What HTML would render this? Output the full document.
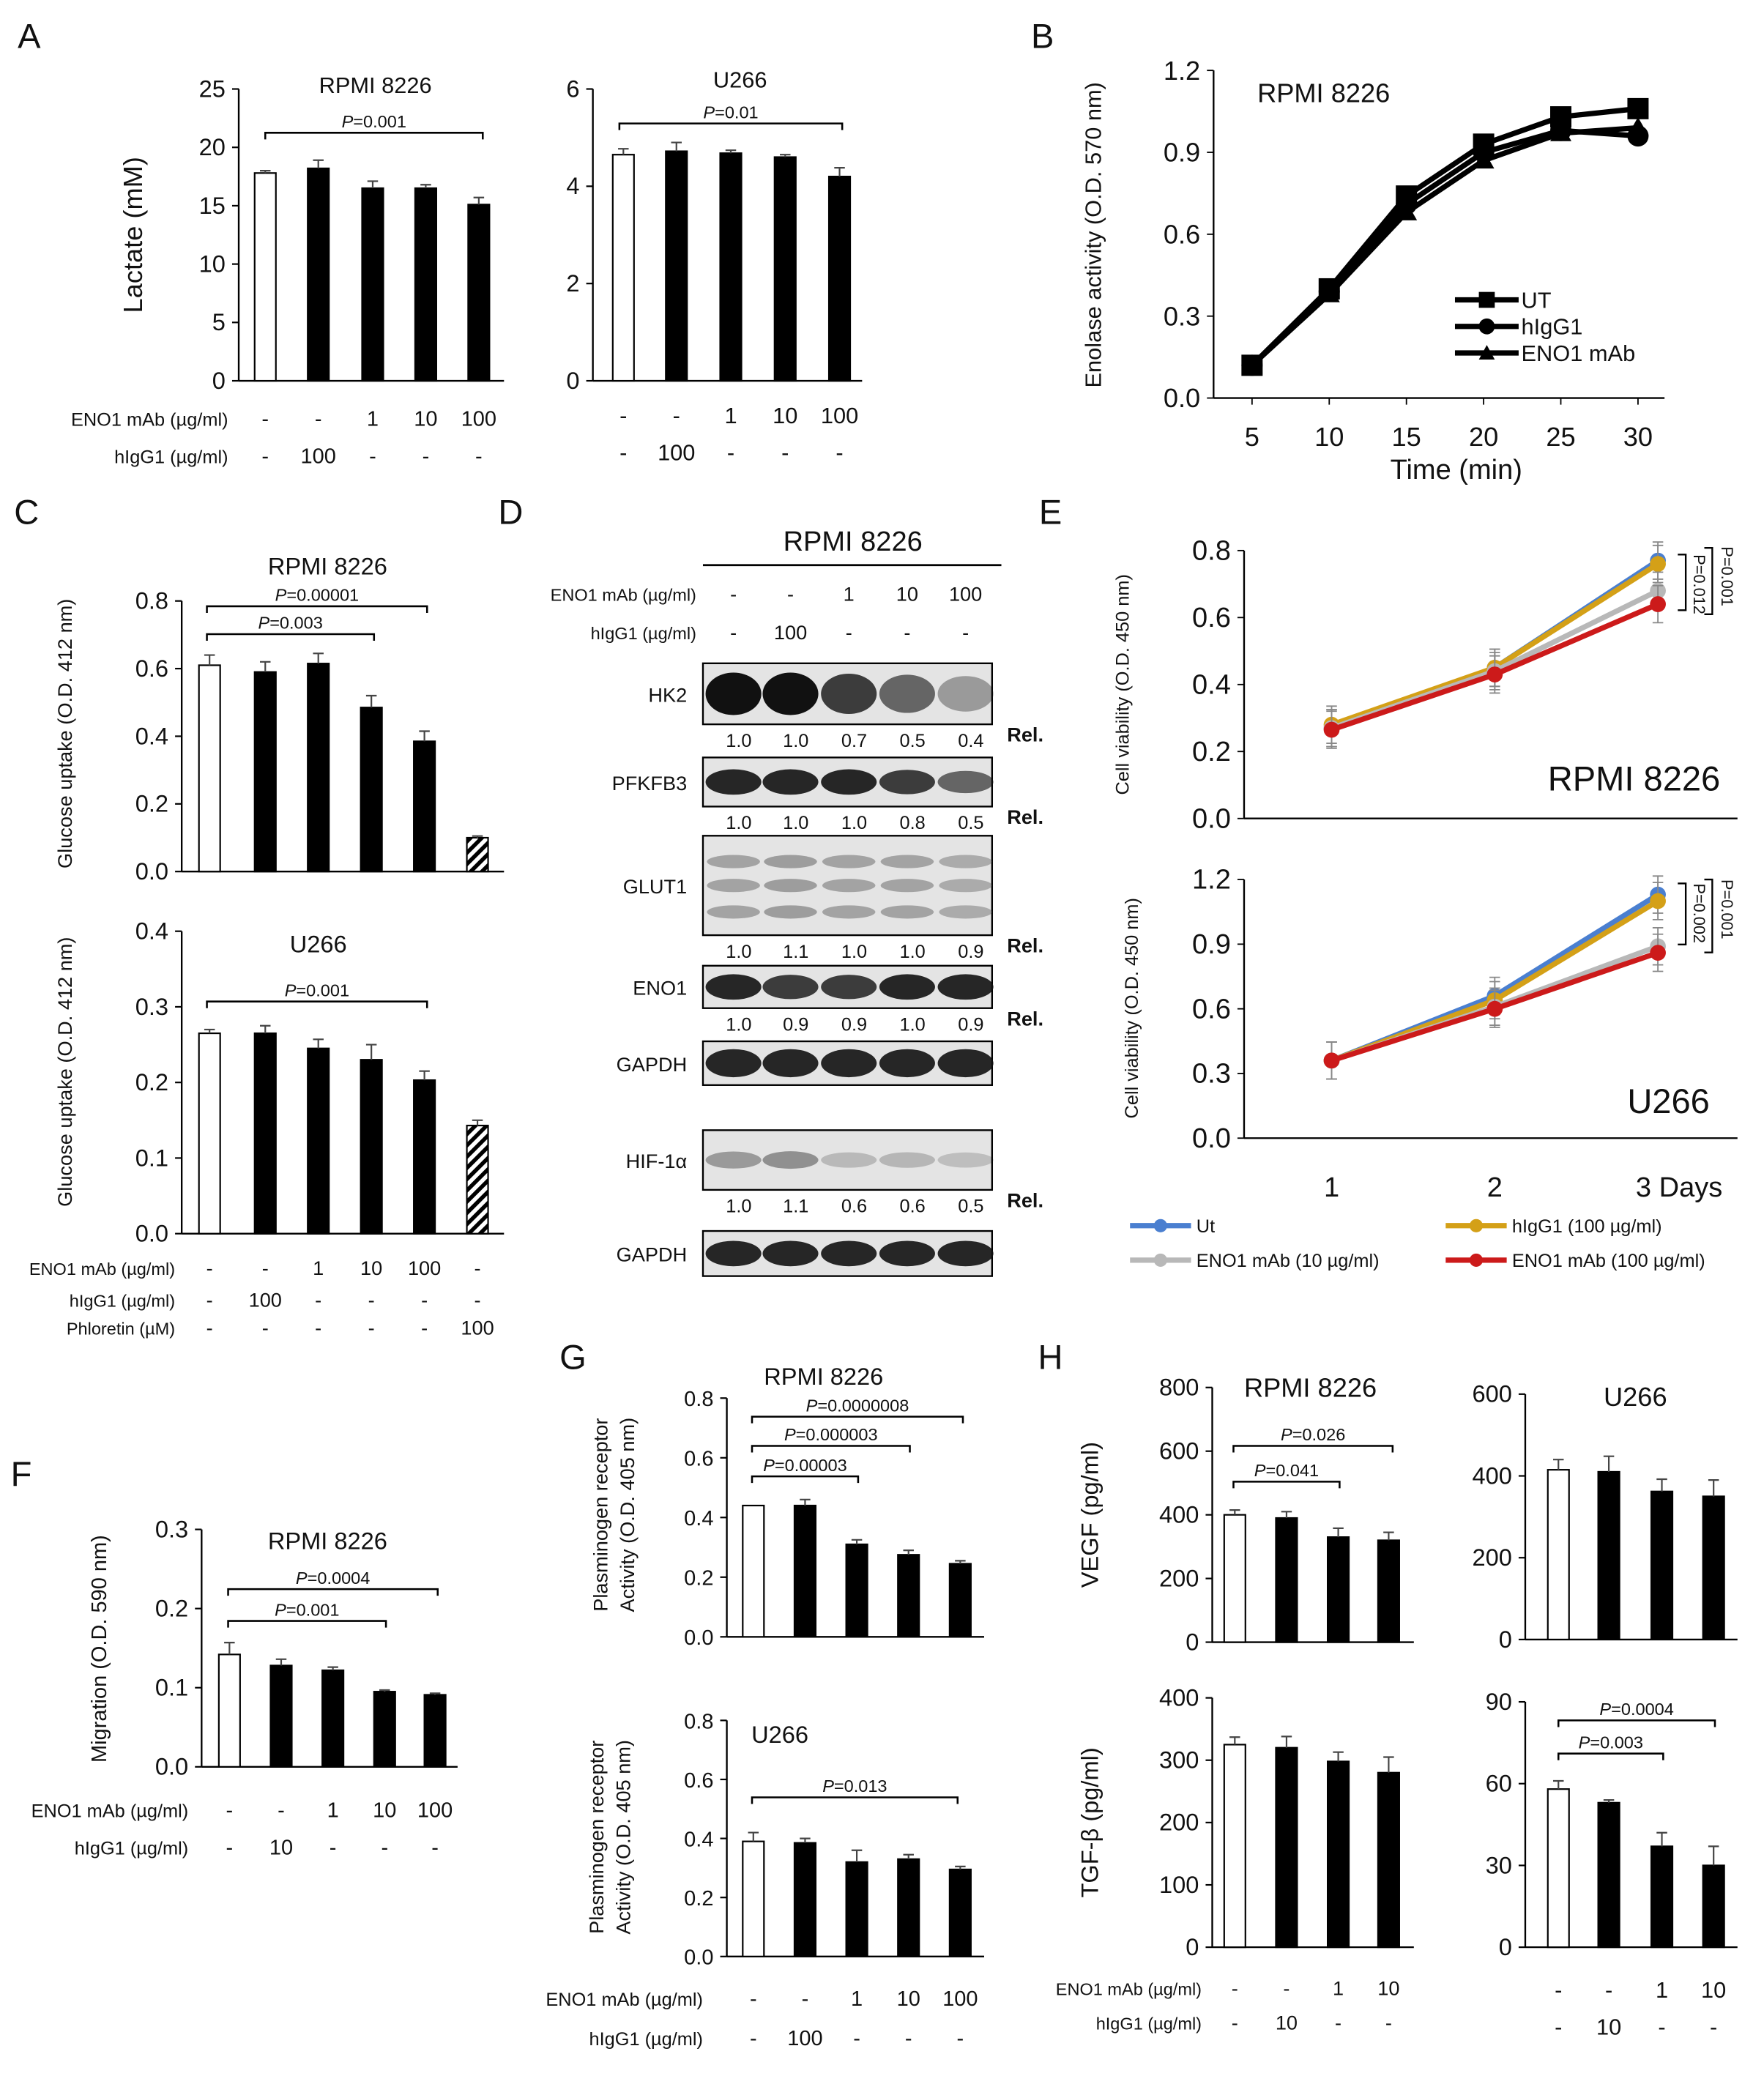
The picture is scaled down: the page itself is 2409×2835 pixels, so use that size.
<!DOCTYPE html>
<html><head><meta charset="utf-8"><style>
html,body{margin:0;padding:0;background:#fff}
svg{display:block}
text{font-family:"Liberation Sans",sans-serif;fill:#111}
</style></head><body>
<svg id="fig" width="2409" height="2835" viewBox="0 0 1330 1565" xmlns="http://www.w3.org/2000/svg">
<defs><pattern id="hatch" width="6" height="6" patternUnits="userSpaceOnUse" patternTransform="rotate(45)"><rect width="6" height="6" fill="#fff"/><rect width="3" height="6" fill="#000"/></pattern></defs>
<g id="root"></g>
</svg>
<script>
// ---- data ----
const aRpmiVals=[17.8,18.2,16.5,16.5,15.1];const aRpmiErr=[0.2,0.7,0.6,0.3,0.6];const aRpmiTicks=[0,5,10,15,20,25];
const aU266Vals=[4.65,4.72,4.68,4.6,4.2];const aU266Err=[0.12,0.18,0.06,0.05,0.18];const aU266Ticks=[0,2,4,6];
const bTimes=[5,10,15,20,25,30];const bUT=[0.12,0.40,0.74,0.93,1.03,1.06];const bIgG=[0.12,0.39,0.71,0.90,0.98,0.96];const bENO=[0.12,0.38,0.68,0.87,0.97,0.99];const bTicks=[0.0,0.3,0.6,0.9,1.2];
const cRpmiVals=[0.61,0.59,0.615,0.485,0.385,0.10];const cRpmiErr=[0.03,0.03,0.03,0.035,0.03,0.005];const cRpmiTicks=[0,0.2,0.4,0.6,0.8];
const cU266Vals=[0.265,0.265,0.245,0.23,0.203,0.143];const cU266Err=[0.005,0.01,0.012,0.02,0.012,0.007];const cU266Ticks=[0,0.1,0.2,0.3,0.4];
const eDays=[1,2,3];const eR_Ut=[0.27,0.45,0.77];const eR_IgG=[0.28,0.45,0.76];const eR_E10=[0.27,0.44,0.68];const eR_E100=[0.265,0.43,0.64];const eRTicks=[0,0.2,0.4,0.6,0.8];
const eU_Ut=[0.36,0.66,1.13];const eU_IgG=[0.36,0.64,1.10];const eU_E10=[0.36,0.61,0.89];const eU_E100=[0.36,0.60,0.86];const eUTicks=[0,0.3,0.6,0.9,1.2];
const fVals=[0.142,0.128,0.122,0.095,0.091];const fErr=[0.015,0.008,0.004,0.002,0.002];const fTicks=[0,0.1,0.2,0.3];
const gRVals=[0.44,0.44,0.31,0.275,0.245];const gRErr=[0,0.02,0.015,0.015,0.01];const gRTicks=[0,0.2,0.4,0.6,0.8];
const gUVals=[0.39,0.385,0.32,0.33,0.295];const gUErr=[0.03,0.015,0.04,0.015,0.01];const gUTicks=[0,0.2,0.4,0.6,0.8];
const hVRVals=[400,390,330,320];const hVRErr=[15,20,28,25];const hVRTicks=[0,200,400,600,800];
const hVUVals=[415,410,362,350];const hVUErr=[25,38,30,40];const hVUTicks=[0,200,400,600];
const hTRVals=[325,320,298,280];const hTRErr=[12,18,15,25];const hTRTicks=[0,100,200,300,400];
const hTUVals=[58,53,37,30];const hTUErr=[3,1,5,7];const hTUTicks=[0,30,60,90];
const wbRel={HK2:[1.0,1.0,0.7,0.5,0.4],PFKFB3:[1.0,1.0,1.0,0.8,0.5],GLUT1:[1.0,1.1,1.0,1.0,0.9],ENO1:[1.0,0.9,0.9,1.0,0.9],HIF:[1.0,1.1,0.6,0.6,0.5]};

const NS="http://www.w3.org/2000/svg";const root=document.getElementById('root');
function el(tag,attrs,parent,name,txt){const e=document.createElementNS(NS,tag);for(const k in attrs)e.setAttribute(k,attrs[k]);


if(txt!==undefined)e.textContent=txt;(parent||root).appendChild(e);return e;}
function T(x,y,s,size,name,anchor,extra){const a=Object.assign({x:x,y:y,'font-size':size||16,'text-anchor':anchor||'middle'},extra||{});return el('text',a,root,name,s);}
function fmt(v,d){return d===undefined?String(v):v.toFixed(d);}

function barChart(c,vals,errs,ticks,id){
 const ys=v=>c.y0-(v-ticks[0])/(ticks[ticks.length-1]-ticks[0])*(c.y0-c.y1);
 el('line',{x1:c.ax,y1:c.y1,x2:c.ax,y2:c.y0,stroke:'#000','stroke-width':1.3},root,id+'-y-axis');
 el('line',{x1:c.ax,y1:c.y0,x2:c.xend,y2:c.y0,stroke:'#000','stroke-width':1.3},root,id+'-x-axis');
 ticks.forEach(t=>{const y=ys(t);el('line',{x1:c.ax-5,y1:y,x2:c.ax,y2:y,stroke:'#000','stroke-width':1.2},root,id+'-tick');
  T(c.ax-10,y+6,fmt(t,c.dec),c.fs||18,id+'-tick-label','end');});
 vals.forEach((v,i)=>{const x=c.xs[i],w=c.bw||16;const y=ys(v);
  let fill='#000';if(i===0)fill='#fff';if(c.hatchLast&&i===vals.length-1)fill='url(#hatch)';
  el('rect',{x:x-w/2,y:y,width:w,height:c.y0-y,fill:fill,stroke:'#000','stroke-width':1.2},root,id+'-bar-'+(i+1));
  const e=errs[i];if(e>0){const ye=ys(v+e);el('path',{d:`M${x},${y}V${ye}M${x-4},${ye}H${x+4}`,stroke:'#444','stroke-width':1.2,fill:'none'},root,id+'-error-bar');}});
 return ys;}
function brack(x1,x2,y,label,id){el('path',{d:`M${x1},${y+5}V${y}H${x2}V${y+5}`,stroke:'#000','stroke-width':1.4,fill:'none'},root,id);
 el('text',{x:(x1+x2)/2,y:y-4,'font-size':13,'text-anchor':'middle'},root,id+'-label').innerHTML='<tspan font-style="italic">P</tspan>='+label;}
function rowLabels(x,y,label,items,xs,size,id){T(x,y,label,size||14,id+'-label','end');items.forEach((s,i)=>T(xs[i],y,s,size?size+2:16,id+'-value'));}
function ylab(x,y,s,size,id){el('text',{x:x,y:y,'font-size':size,'text-anchor':'middle',transform:`rotate(-90 ${x} ${y})`},root,id,s);}

// panel letters
[['A',22,36],['B',786,36],['C',20,395],['D',385,395],['E',792,395],['F',16,1120],['G',432,1032],['H',792,1032]].forEach(p=>T(p[1],p[2],p[0],26,'panel-letter-'+p[0],'middle'));

// ---- A ----
let xsA=[200,240,281,321,361];barChart({ax:180,y0:287,y1:67,xend:380,xs:xsA},aRpmiVals,aRpmiErr,aRpmiTicks,'a-rpmi');
T(283,70,'RPMI 8226',17,'a-rpmi-title');brack(200,364,100,'0.001','a-rpmi-pvalue');
ylab(107,177,'Lactate (mM)',20,'a-y-axis-title');
let xsA2=[470,510,551,592,633];barChart({ax:447,y0:287,y1:67,xend:650,xs:xsA2},aU266Vals,aU266Err,aU266Ticks,'a-u266');
T(558,66,'U266',17,'a-u266-title');brack(467,635,93,'0.01','a-u266-pvalue');
rowLabels(172,321,'ENO1 mAb (µg/ml)',['-','-','1','10','100'],xsA,14,'a-eno1-row');
rowLabels(172,349,'hIgG1 (µg/ml)',['-','100','-','-','-'],xsA,14,'a-higg1-row');
['-','-','1','10','100'].forEach((s,i)=>T(xsA2[i],319,s,17,'a-u266-eno1-value'));
['-','100','-','-','-'].forEach((s,i)=>T(xsA2[i],347,s,17,'a-u266-higg1-value'));

// ---- B ----
(function(){const ax=915,y0=300,y1=53;const xs=t=>944+(t-5)/25*(1235-944);const ys=v=>y0-v/1.2*(y0-y1);
 el('line',{x1:ax,y1:y1,x2:ax,y2:y0,stroke:'#000','stroke-width':1.3},root,'b-y-axis');
 el('line',{x1:ax,y1:y0,x2:1255,y2:y0,stroke:'#000','stroke-width':1.3},root,'b-x-axis');
 bTicks.forEach(t=>{el('line',{x1:ax-5,y1:ys(t),x2:ax,y2:ys(t),stroke:'#000'},root,'b-y-tick');T(ax-10,ys(t)+7,t.toFixed(1),20,'b-y-tick-label','end');});
 bTimes.forEach(t=>{el('line',{x1:xs(t),y1:y0,x2:xs(t),y2:y0+5,stroke:'#000'},root,'b-x-tick');T(xs(t),y0+36,String(t),20,'b-x-tick-label');});
 T(1098,361,'Time (min)',21,'b-x-axis-title');ylab(830,177,'Enolase activity (O.D. 570 nm)',17,'b-y-axis-title');
 T(948,77,'RPMI 8226',20,'b-title','start');
 const ser=[[bUT,'sq','ut'],[bIgG,'ci','higg1'],[bENO,'tr','eno1']];
 ser.forEach(s=>{el('polyline',{points:s[0].map((v,i)=>xs(bTimes[i])+','+ys(v)).join(' '),fill:'none',stroke:'#000','stroke-width':4},root,'b-line-'+s[2]);
  s[0].forEach((v,i)=>{const x=xs(bTimes[i]),y=ys(v);
   if(s[1]==='sq')el('rect',{x:x-8,y:y-8,width:16,height:16,fill:'#000'},root,'b-point-'+s[2]);
   else if(s[1]==='ci')el('circle',{cx:x,cy:y,r:8,fill:'#000'},root,'b-point-'+s[2]);
   else el('path',{d:`M${x},${y-8}L${x+8},${y+6}L${x-8},${y+6}Z`,fill:'#000'},root,'b-point-'+s[2]);});});
 [['UT',226,'sq'],['hIgG1',246,'ci'],['ENO1 mAb',266,'tr']].forEach(l=>{el('line',{x1:1097,y1:l[1],x2:1145,y2:l[1],stroke:'#000','stroke-width':4},root,'b-legend-line');
  if(l[2]==='sq')el('rect',{x:1115,y:l[1]-6,width:12,height:12},root,'b-legend-marker');else if(l[2]==='ci')el('circle',{cx:1121,cy:l[1],r:6},root,'b-legend-marker');else el('path',{d:`M1121,${l[1]-6}L1127,${l[1]+5}L1115,${l[1]+5}Z`},root,'b-legend-marker');
  T(1147,l[1]+6,l[0],17,'b-legend-entry','start');});})();

// ---- C ----
let xsC=[158,200,240,280,320,360];
barChart({ax:137,y0:657,y1:453,xend:380,xs:xsC,dec:1,hatchLast:true},cRpmiVals,cRpmiErr,cRpmiTicks,'c-rpmi');
T(247,433,'RPMI 8226',18,'c-rpmi-title');brack(156,322,457,'0.00001','c-pvalue-1');brack(156,282,478,'0.003','c-pvalue-2');
ylab(54,553,'Glucose uptake (O.D. 412 nm)',15,'c-rpmi-y-axis-title');
barChart({ax:137,y0:930,y1:702,xend:380,xs:xsC,dec:1,hatchLast:true},cU266Vals,cU266Err,cU266Ticks,'c-u266');
T(240,718,'U266',18,'c-u266-title');brack(156,322,755,'0.001','c-u266-pvalue');
ylab(54,808,'Glucose uptake (O.D. 412 nm)',15,'c-u266-y-axis-title');
rowLabels(132,961,'ENO1 mAb (µg/ml)',['-','-','1','10','100','-'],xsC,13,'c-eno1-row');
rowLabels(132,985,'hIgG1 (µg/ml)',['-','100','-','-','-','-'],xsC,13,'c-higg1-row');
rowLabels(132,1006,'Phloretin (µM)',['-','-','-','-','-','100'],xsC,13,'c-phloretin-row');

// ---- D western blot ----
(function(){const lx=[553,596,640,684,728];
 T(643,415,'RPMI 8226',21,'d-title');el('line',{x1:530,y1:426,x2:755,y2:426,stroke:'#000','stroke-width':1.5},root,'d-title-line');
 rowLabels(525,453,'ENO1 mAb (µg/ml)',['-','-','1','10','100'],lx,13,'d-eno1-row');
 rowLabels(525,482,'hIgG1 (µg/ml)',['-','100','-','-','-'],lx,13,'d-higg1-row');
 const blots=[['HK2',500,546,[1,1,0.8,0.6,0.35],12,'HK2'],['PFKFB3',571,608,[0.9,0.9,0.9,0.8,0.6],6,'PFKFB3'],['GLUT1',630,705,[0.45,0.5,0.45,0.45,0.4],0,'GLUT1'],['ENO1',728,760,[0.9,0.8,0.8,0.9,0.9],6,'ENO1'],['GAPDH',785,818,[0.9,0.9,0.9,0.9,0.9],7,null],['HIF-1α',852,897,[0.35,0.4,0.2,0.22,0.18],5,'HIF'],['GAPDH',928,962,[0.9,0.9,0.9,0.9,0.9],6,null]];
 blots.forEach((b,bi)=>{const id='d-blot-'+b[0].toLowerCase().replace(/[^a-z0-9]/g,'')+'-'+bi;
  el('rect',{x:530,y:b[1],width:218,height:b[2]-b[1],fill:'#e4e4e4',stroke:'#000','stroke-width':1.3},root,id);
  T(518,(b[1]+b[2])/2+6,b[0],15,id+'-label','end');
  const cy=(b[1]+b[2])/2;
  lx.forEach((x,i)=>{const k=b[3][i];
   if(b[0]==='GLUT1'){[-18,0,20].forEach(o=>el('ellipse',{cx:x,cy:cy+o,rx:20,ry:5,fill:'#555','fill-opacity':k},root,id+'-band'));}
   else el('ellipse',{cx:x,cy:cy,rx:21,ry:b[4]+k*4,fill:'#111','fill-opacity':k},root,id+'-band');});
  if(b[5]){wbRel[b[5]].forEach((v,i)=>T(lx[i]+4,b[2]+17,v.toFixed(1),14,id+'-rel-value'));T(773,b[2]+13,'Rel.',15,id+'-rel-label','middle',{'font-weight':'bold'});}
 });})();

// ---- E ----
function lineChart(c,ticks,series,id){const ys=v=>c.y0-v/ticks[ticks.length-1]*(c.y0-c.y1);const xs=d=>1004+(d-1)*123;
 el('line',{x1:c.ax,y1:c.y1,x2:c.ax,y2:c.y0,stroke:'#000','stroke-width':1.3},root,id+'-y-axis');
 el('line',{x1:c.ax,y1:c.y0,x2:1310,y2:c.y0,stroke:'#000','stroke-width':1.3},root,id+'-x-axis');
 ticks.forEach(t=>{el('line',{x1:c.ax-5,y1:ys(t),x2:c.ax,y2:ys(t),stroke:'#000'},root,id+'-tick');T(c.ax-10,ys(t)+7,t.toFixed(1),21,id+'-tick-label','end');});
 series.forEach(s=>{el('polyline',{points:s[0].map((v,i)=>xs(eDays[i])+','+ys(v)).join(' '),fill:'none',stroke:s[1],'stroke-width':4},root,id+'-line-'+s[2]);
  s[0].forEach((v,i)=>{el('path',{d:`M${xs(eDays[i])},${ys(v)-14}v28M${xs(eDays[i])-4},${ys(v)-14}h8M${xs(eDays[i])-4},${ys(v)+14}h8`,stroke:'#888','stroke-width':1},root,id+'-error-bar');
   el('circle',{cx:xs(eDays[i]),cy:ys(v),r:6,fill:s[1]},root,id+'-point-'+s[2]);});});
 return ys;}
const eCols=[['#4a7fd0','ut'],['#d4a017','higg1'],['#b8b8b8','eno1-10'],['#cc1a1a','eno1-100']];
lineChart({ax:938,y0:617,y1:415},eRTicks,[[eR_Ut,'#4a7fd0','ut'],[eR_IgG,'#d4a017','higg1'],[eR_E10,'#b8b8b8','eno1-10'],[eR_E100,'#cc1a1a','eno1-100']],'e-rpmi');
T(1232,596,'RPMI 8226',26,'e-rpmi-title');ylab(851,516,'Cell viability (O.D. 450 nm)',14,'e-rpmi-y-axis-title');
lineChart({ax:938,y0:858,y1:663},eUTicks,[[eU_Ut,'#4a7fd0','ut'],[eU_IgG,'#d4a017','higg1'],[eU_E10,'#b8b8b8','eno1-10'],[eU_E100,'#cc1a1a','eno1-100']],'e-u266');
T(1258,839,'U266',26,'e-u266-title');ylab(858,760,'Cell viability (O.D. 450 nm)',14,'e-u266-y-axis-title');
[['1',1004],['2',1127],['3 Days',1266]].forEach(t=>T(t[1],902,t[0],21,'e-x-tick-label'));
el('path',{d:'M1265,418h6v42h-6M1285,413h6v50h-6',stroke:'#000',fill:'none','stroke-width':1.3},root,'e-rpmi-brackets');
el('text',{x:1277,y:418,'font-size':12,transform:'rotate(90 1277 418)'},root,'e-rpmi-p1','P=0.012');el('text',{x:1298,y:412,'font-size':12,transform:'rotate(90 1298 412)'},root,'e-rpmi-p2','P=0.001');
el('path',{d:'M1265,666h6v46h-6M1285,663h6v55h-6',stroke:'#000',fill:'none','stroke-width':1.3},root,'e-u266-brackets');
el('text',{x:1277,y:666,'font-size':12,transform:'rotate(90 1277 666)'},root,'e-u266-p1','P=0.002');el('text',{x:1298,y:663,'font-size':12,transform:'rotate(90 1298 663)'},root,'e-u266-p2','P=0.001');
[['Ut',852,924,0],['hIgG1 (100 µg/ml)',1090,924,1],['ENO1 mAb (10 µg/ml)',852,950,2],['ENO1 mAb (100 µg/ml)',1090,950,3]].forEach(l=>{
 el('line',{x1:l[1],y1:l[2],x2:l[1]+46,y2:l[2],stroke:eCols[l[3]][0],'stroke-width':4},root,'e-legend-line-'+eCols[l[3]][1]);
 el('circle',{cx:l[1]+23,cy:l[2],r:5,fill:eCols[l[3]][0]},root,'e-legend-marker');T(l[1]+50,l[2]+5,l[0],14,'e-legend-entry','start');});

// ---- F ----
let xsF=[173,212,251,290,328];
barChart({ax:152,y0:1332,y1:1153,xend:345,xs:xsF,dec:1},fVals,fErr,fTicks,'f');
T(247,1168,'RPMI 8226',18,'f-title');brack(172,330,1198,'0.0004','f-pvalue-1');brack(172,291,1222,'0.001','f-pvalue-2');
ylab(80,1243,'Migration (O.D. 590 nm)',16,'f-y-axis-title');
rowLabels(142,1370,'ENO1 mAb (µg/ml)',['-','-','1','10','100'],xsF,14,'f-eno1-row');
rowLabels(142,1398,'hIgG1 (µg/ml)',['-','10','-','-','-'],xsF,14,'f-higg1-row');

// ---- G ----
let xsG=[568,607,646,685,724];
barChart({ax:548,y0:1234,y1:1054,xend:742,xs:xsG,dec:1,fs:16},gRVals,gRErr,gRTicks,'g-rpmi');
T(621,1044,'RPMI 8226',18,'g-rpmi-title');brack(567,726,1068,'0.0000008','g-pvalue-1');brack(567,686,1090,'0.000003','g-pvalue-2');brack(567,647,1113,'0.00003','g-pvalue-3');
ylab(458,1142,'Plasminogen receptor',15,'g-rpmi-y-title-1');ylab(478,1142,'Activity (O.D. 405 nm)',15,'g-rpmi-y-title-2');
barChart({ax:548,y0:1475,y1:1297,xend:742,xs:xsG,dec:1,fs:16},gUVals,gUErr,gUTicks,'g-u266');
T(588,1314,'U266',18,'g-u266-title');brack(567,722,1355,'0.013','g-u266-pvalue');
ylab(455,1385,'Plasminogen receptor',15,'g-u266-y-title-1');ylab(475,1385,'Activity (O.D. 405 nm)',15,'g-u266-y-title-2');
rowLabels(530,1512,'ENO1 mAb (µg/ml)',['-','-','1','10','100'],xsG,14,'g-eno1-row');
rowLabels(530,1542,'hIgG1 (µg/ml)',['-','100','-','-','-'],xsG,14,'g-higg1-row');

// ---- H ----
let xsH1=[931,970,1009,1047],xsH2=[1175,1213,1253,1292];
barChart({ax:914,y0:1238,y1:1046,xend:1066,xs:xsH1},hVRVals,hVRErr,hVRTicks,'h-vegf-rpmi');
T(988,1053,'RPMI 8226',20,'h-vegf-rpmi-title');brack(930,1050,1090,'0.026','h-vegf-pvalue-1');brack(930,1010,1117,'0.041','h-vegf-pvalue-2');
ylab(828,1142,'VEGF (pg/ml)',18,'h-vegf-y-axis-title');
barChart({ax:1150,y0:1236,y1:1051,xend:1310,xs:xsH2},hVUVals,hVUErr,hVUTicks,'h-vegf-u266');
T(1233,1060,'U266',20,'h-vegf-u266-title');
barChart({ax:914,y0:1468,y1:1280,xend:1066,xs:xsH1},hTRVals,hTRErr,hTRTicks,'h-tgf-rpmi');
ylab(828,1374,'TGF-β (pg/ml)',18,'h-tgf-y-axis-title');
barChart({ax:1150,y0:1468,y1:1283,xend:1310,xs:xsH2},hTUVals,hTUErr,hTUTicks,'h-tgf-u266');
brack(1175,1293,1297,'0.0004','h-tgf-pvalue-1');brack(1175,1254,1322,'0.003','h-tgf-pvalue-2');
rowLabels(906,1504,'ENO1 mAb (µg/ml)',['-','-','1','10'],xsH1,13,'h-eno1-row');
rowLabels(906,1530,'hIgG1 (µg/ml)',['-','10','-','-'],xsH1,13,'h-higg1-row');
['-','-','1','10'].forEach((s,i)=>T(xsH2[i],1506,s,17,'h-u266-eno1-value'));
['-','10','-','-'].forEach((s,i)=>T(xsH2[i],1534,s,17,'h-u266-higg1-value'));
</script>
</body></html>
